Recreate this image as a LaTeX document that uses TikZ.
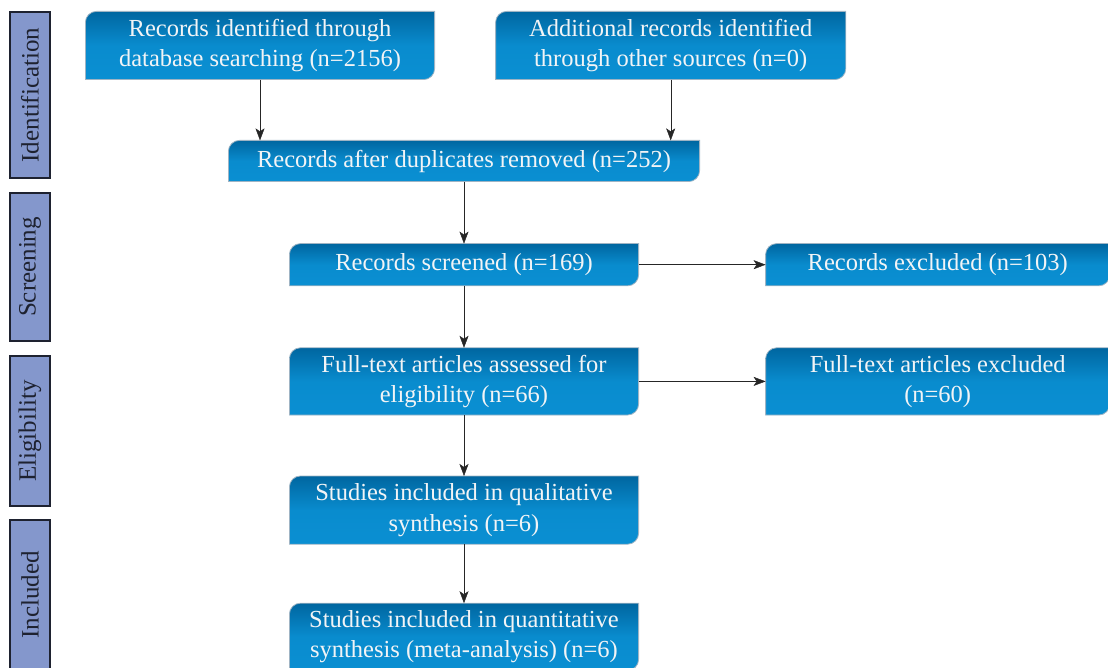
\documentclass[tikz,border=0pt]{standalone}
\usepackage{fontspec}
\setmainfont{Liberation Serif}
\usetikzlibrary{arrows.meta,positioning,backgrounds}

\definecolor{boxtop}{HTML}{0066A0}
\definecolor{boxbot}{HTML}{0A8FD2}
\definecolor{boxline}{HTML}{9FB4C4}
\definecolor{boxtext}{HTML}{F2F4F6}
\definecolor{stagefill}{HTML}{8497CC}
\definecolor{stageline}{HTML}{1E2230}

\tikzset{
  flowbox/.style={inner sep=0pt, align=center, text=boxtext,
                  font=\fontsize{24.5}{30.5}\selectfont},
  stage/.style={draw=stageline, line width=1.4pt, fill=stagefill,
                minimum height=40pt, inner sep=0pt, rotate=90,
                text=stageline, font=\fontsize{25}{30.5}\selectfont}
}

\begin{document}
\begin{tikzpicture}[-{Stealth[length=12pt,width=9pt,inset=3pt]}, line width=1.2pt,
                    draw=black!85, x=1pt, y=1pt, node distance=62pt]
  \useasboundingbox (0,0) rectangle (1108,-668);

  % stages on the left
  \node[stage, minimum width=166pt] (ident) at (30,-95)  {Identification};
  \node[stage, minimum width=148pt] (scr)   at (30,-267) {Screening};
  \node[stage, minimum width=150pt] (elig)  at (30,-431) {Eligibility};
  \node[stage, minimum width=150pt] (incl)  at (30,-595) {Included};

  % boxes
  \node[flowbox, minimum width=348pt, minimum height=67pt] (db)
        at (260,-45.5) {Records identified through\\database searching (n=2156)};
  \node[flowbox, minimum width=349pt, minimum height=67pt] (other) [right=61pt of db]
        {Additional records identified\\through other sources (n=0)};
  \node[flowbox, minimum width=470pt, minimum height=40pt] (dup)
        at (464,-161) {Records after duplicates removed (n=252)};
  \node[flowbox, minimum width=348pt, minimum height=41pt] (scrn) [below=of dup]
        {Records screened (n=169)};
  \node[flowbox, minimum width=343pt, minimum height=41pt] (exc) [right=127pt of scrn]
        {Records excluded (n=103)};
  \node[flowbox, minimum width=348pt, minimum height=66pt] (full) [below=of scrn]
        {Full-text articles assessed for\\eligibility (n=66)};
  \node[flowbox, minimum width=343pt, minimum height=66pt] (fexc) [right=127pt of full]
        {Full-text articles excluded\\(n=60)};
  \node[flowbox, minimum width=348pt, minimum height=67pt] (qual) [below=61pt of full]
        {Studies included in qualitative\\synthesis (n=6)};
  \node[flowbox, minimum width=348pt, minimum height=66pt] (quant) [below=59pt of qual]
        {Studies included in quantitative\\synthesis (meta-analysis) (n=6)};

  \begin{pgfonlayer}{background}
    \foreach \n in {db,other,dup,scrn,exc,full,fexc,qual,quant}
      \shade[-, top color=boxtop, bottom color=boxbot, middle color=boxbot!92!boxtop,
             draw=boxline, line width=0.8pt]
        (\n.south west) -- ([yshift=-11pt]\n.north west)
        arc[start angle=180, end angle=90, radius=11pt]
        -- (\n.north east) -- ([yshift=11pt]\n.south east)
        arc[start angle=0, end angle=-90, radius=11pt] -- cycle;
  \end{pgfonlayer}

  \draw (db)    -- (db |- dup.north);
  \draw (other) -- (other |- dup.north);
  \draw (dup)   -- (scrn);
  \draw (scrn)  -- (full);
  \draw (full)  -- (qual);
  \draw (qual)  -- (quant);
  \draw (scrn)  -- (exc);
  \draw (full)  -- (fexc);
\end{tikzpicture}
\end{document}
